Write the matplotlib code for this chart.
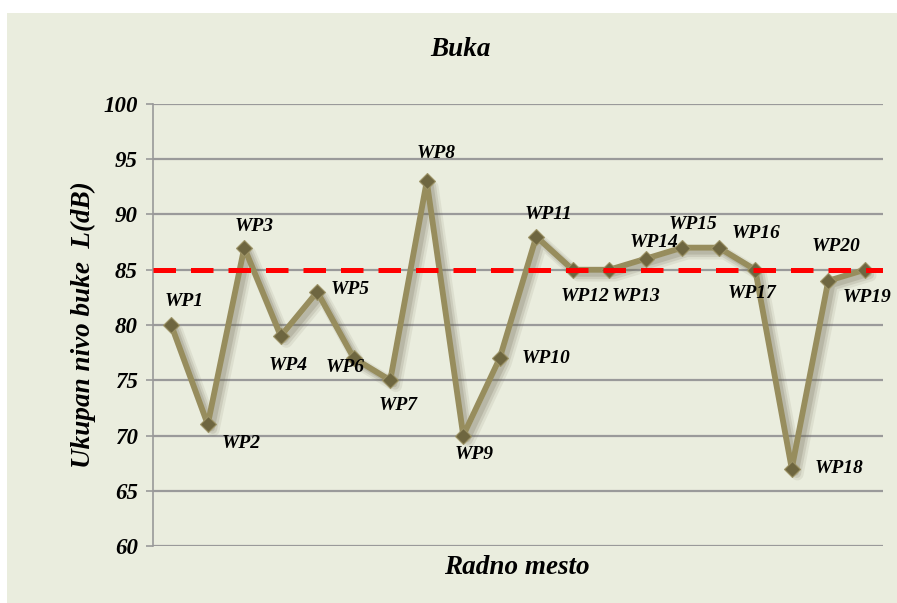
import matplotlib
matplotlib.use("Agg")
import matplotlib.pyplot as plt
import matplotlib.patheffects as pe
from matplotlib.patches import Rectangle

categories = ["WP%d" % i for i in range(1, 21)]
values = [80, 71, 87, 79, 83, 77, 75, 93, 70, 77, 88, 85, 85, 86, 87, 87, 85, 67, 84, 85]
limit_value = 85
yticks = [60, 65, 70, 75, 80, 85, 90, 95, 100]
# label offsets in points (dx, dy)
label_offsets = [(9, 17), (24, -14), (7, 15), (5, -21), (24, 2), (-6, -7), (6, -18), (7, 20),
                 (8, -14), (33, 0), (9, 16), (9, -19), (19, -19), (6, 12), (8, 17), (27, 10),
                 (-2, -17), (34, 0), (28, -12), (-21, 17)]

font = "Liberation Serif"
bg = "#EAEDDE"

fig = plt.figure(figsize=(8.97, 6.03), dpi=100)
fig.patch.set_facecolor("white")
fig.patches.append(Rectangle((7/897, 0), 1 - 7/897, 1 - 13/603, transform=fig.transFigure,
                             facecolor=bg, edgecolor="none", zorder=-10))

ax = fig.add_axes([153/897, 57/603, 730/897, 442/603])
ax.set_facecolor(bg)
ax.patch.set_alpha(0)

x = list(range(len(categories)))
ax.set_xlim(-0.5, len(categories) - 0.5)
ax.set_ylim(60, 100)
ax.set_yticks(yticks)
ax.set_yticklabels([str(t) for t in yticks], fontfamily=font, fontweight="bold",
                   fontstyle="italic", fontsize=16.5)
ax.set_xticks([])
ax.tick_params(axis="y", length=5, color="#999999", width=1.2, pad=6)
ax.grid(axis="y", color="#9a9a9a", linewidth=1.6)
ax.set_axisbelow(True)
for s in ["top", "right", "bottom"]:
    ax.spines[s].set_visible(False)
ax.spines["left"].set_color("#999999")
ax.spines["left"].set_linewidth(1.2)

ax.axhline(limit_value, color="#FF0000", linewidth=3.6, dashes=(4.5, 3.0), zorder=4.5)

shadow = [pe.SimpleLineShadow(offset=(4, -4), shadow_color="#6b6650", alpha=0.10, linewidth=9,
                              joinstyle="round"),
          pe.SimpleLineShadow(offset=(3.5, -3.5), shadow_color="#6b6650", alpha=0.15, linewidth=6.5,
                              joinstyle="round"),
          pe.SimpleLineShadow(offset=(3, -3), shadow_color="#6b6650", alpha=0.2, linewidth=4,
                              joinstyle="round"),
          pe.Normal()]
ax.plot(x, values, color="#978D5D", linewidth=4.2, zorder=3, path_effects=shadow,
        solid_capstyle="round", solid_joinstyle="round")
ax.plot(x, values, linestyle="none", marker="D", markersize=8.5, markerfacecolor="#6E6640",
        markeredgecolor="#9C9366", markeredgewidth=0.8, zorder=4)

for xi, v, lab, (dx, dy) in zip(x, values, categories, label_offsets):
    ax.annotate(lab, (xi, v), xytext=(dx, dy), textcoords="offset points",
                ha="center", va="center", fontfamily=font, fontweight="bold",
                fontstyle="italic", fontsize=14, zorder=5)

fig.text(460/897, 1 - 50/603, "Buka", ha="center", va="center", fontfamily=font,
         fontweight="bold", fontstyle="italic", fontsize=19.5)
ax.set_ylabel("Ukupan nivo buke  L(dB)", fontfamily=font, fontweight="bold",
              fontstyle="italic", fontsize=19.5, labelpad=5)
fig.text(517/897, 1 - 567/603, "Radno mesto", ha="center", va="center", fontfamily=font,
         fontweight="bold", fontstyle="italic", fontsize=19.5)

fig.savefig("out.png", dpi=100, facecolor=fig.get_facecolor())
